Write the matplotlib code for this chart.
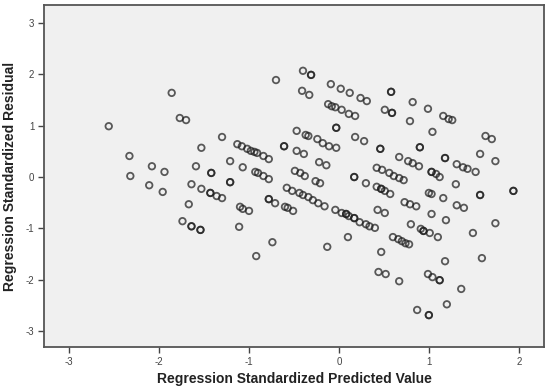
import matplotlib.pyplot as plt

# Regression standardized predicted value (x) and standardized residual (y)
x_pred = [
    -2.56, -1.86, -1.77, -1.70, -2.33, -2.32, -2.08, -1.94, -2.11, -1.96,
    -1.53, -1.59, -1.42, -1.42, -1.30, -1.21, -1.07, -1.21, -1.21, -1.64,
    -1.53, -1.43, -1.43, -1.36, -1.30,
    -1.13, -1.08, -1.02, -0.98, -0.94, -0.91, -0.84, -0.78,
    -0.93, -0.90, -0.84, -0.78, -0.70, -0.78, -0.78, -1.67, -1.74,
    -1.64, -1.64, -1.54, -1.54, -1.10, -1.07, -1.00, -1.11, -0.92, -0.74,
    -0.71, -0.60, -0.57, -0.51,
    -0.40, -0.31, -0.31, -0.41, -0.33, -0.09, 0.02, 0.12, 0.24, 0.31,
    0.58, 0.58, 0.82, 0.99, 1.16, 1.22, 1.26, 0.51, 0.59, 0.59, 0.79, 1.04,
    -0.12, -0.08, -0.04, 0.03, 0.11, 0.18, -0.03, -0.03, 0.18, 0.28,
    0.46, 0.46, 0.90, 0.90, 1.18, 1.18, 1.57, 1.63, 1.70, 1.74,
    0.67, 0.77, 0.82, 0.89, 1.31, 1.38, 1.43, 1.52, 1.03, 1.03, 1.08, 1.12,
    1.30, 1.57, 1.57, 1.94, 1.94, 0.17, 0.17, 0.30,
    0.42, 0.47, 0.47, 0.51, 0.57, 0.42, 0.48, 0.56, 0.61, 0.67, 0.72,
    1.00, 1.03, 1.16,
    -0.47, -0.37, -0.34, -0.24, -0.18, -0.11, -0.03, -0.61, -0.61,
    -0.47, -0.39, -0.22, -0.14, -0.49, -0.43, -0.38, -0.26, -0.21,
    -0.58, -0.52, -0.44, -0.40, -0.34, -0.29, -0.23, -0.16,
    -0.04, 0.03, 0.08, 0.08, 0.11, 0.17, 0.17, 0.23, 0.30, 0.34, 0.40,
    0.43, 0.51, 0.73, 0.79, 0.86, 0.80, 0.91, 0.94, 0.94, 1.01, 1.10,
    1.31, 1.39, 1.03, 1.19, 1.74, 1.49, 0.10, -0.13, 0.47, 0.44, 0.52, 0.67,
    0.60, 0.66, 0.70, 0.74, 0.78, 1.59, 1.18, 0.99, 1.04, 1.12, 1.12,
    1.36, 1.20, 0.87, 1.00, 1.00,
]
y_resid = [
    0.99, 1.64, 1.15, 1.11, 0.41, 0.02, 0.21, 0.10, -0.16, -0.29,
    0.57, 0.21, 0.08, 0.08, 0.78, 0.31, 0.19, -0.10, -0.10, -0.14,
    -0.23, -0.31, -0.31, -0.37, -0.41,
    0.64, 0.60, 0.55, 0.51, 0.49, 0.47, 0.41, 0.35,
    0.10, 0.08, 0.02, -0.04, 1.89, -0.43, -0.43, -0.53, -0.86,
    -0.96, -0.96, -1.03, -1.03, -0.58, -0.62, -0.66, -0.97, -1.54, -1.27,
    -0.51, -0.58, -0.60, -0.66,
    2.07, 1.99, 1.99, 1.68, 1.60, 1.81, 1.72, 1.64, 1.54, 1.48,
    1.66, 1.66, 1.46, 1.33, 1.19, 1.13, 1.11, 1.31, 1.25, 1.25, 1.09, 0.88,
    1.42, 1.38, 1.36, 1.31, 1.23, 1.19, 0.96, 0.96, 0.78, 0.70,
    0.55, 0.55, 0.58, 0.58, 0.37, 0.37, 0.45, 0.80, 0.74, 0.31,
    0.39, 0.31, 0.27, 0.21, 0.25, 0.19, 0.16, 0.10, 0.10, 0.10, 0.06, 0.00,
    -0.14, -0.35, -0.35, -0.27, -0.27, 0.00, 0.00, -0.12,
    -0.19, -0.23, -0.23, -0.27, -0.33, 0.18, 0.14, 0.08, 0.02, -0.02, -0.06,
    -0.31, -0.33, -0.41,
    0.90, 0.82, 0.80, 0.74, 0.66, 0.60, 0.57, 0.60, 0.60,
    0.51, 0.45, 0.29, 0.23, 0.12, 0.08, 0.02, -0.08, -0.12,
    -0.21, -0.27, -0.31, -0.35, -0.39, -0.45, -0.51, -0.57,
    -0.64, -0.70, -0.72, -0.72, -0.76, -0.80, -0.80, -0.88, -0.92, -0.96, -0.99,
    -0.64, -0.70, -0.49, -0.53, -0.57, -0.92, -1.01, -1.05, -1.05, -1.09, -1.17,
    -0.55, -0.60, -0.72, -0.84, -0.90, -1.09, -1.17, -1.36, -1.46, -1.85, -1.89, -2.03,
    -1.17, -1.21, -1.25, -1.29, -1.31, -1.58, -1.64, -1.89, -1.95, -2.01, -2.01,
    -2.18, -2.48, -2.59, -2.69, -2.69,
]

x_ticks = [-3, -2, -1, 0, 1, 2]
y_ticks = [-3, -2, -1, 0, 1, 2, 3]

plt.rcParams['font.family'] = ['Liberation Sans', 'DejaVu Sans']

fig = plt.figure(figsize=(5.5, 3.92), dpi=100)
ax = fig.add_axes([0.08, 0.115, 0.909, 0.872])
ax.set_facecolor('#f0f0f0')

ax.scatter(x_pred, y_resid, s=22, facecolors='none', edgecolors='#1e1e1e',
           linewidths=1.3, alpha=0.72)

ax.set_xlim(-3.28, 2.28)
ax.set_ylim(-3.31, 3.35)
ax.set_xticks(x_ticks)
ax.set_xticklabels([str(t) for t in x_ticks])
ax.set_yticks(y_ticks)
ax.set_yticklabels([str(t) for t in y_ticks])
ax.tick_params(direction='out', length=4, width=1, color='#444444',
               labelsize=7, labelcolor='#444444', pad=3)

for s in ax.spines.values():
    s.set_color('#555555')
    s.set_linewidth(1.3)

ax.set_xlabel('Regression Standardized Predicted Value', fontsize=10,
              fontweight='bold', color='#222222', labelpad=4)
ax.set_ylabel('Regression Standardized Residual', fontsize=10,
              fontweight='bold', color='#222222', labelpad=6)

fig.savefig('out.png', dpi=100)
